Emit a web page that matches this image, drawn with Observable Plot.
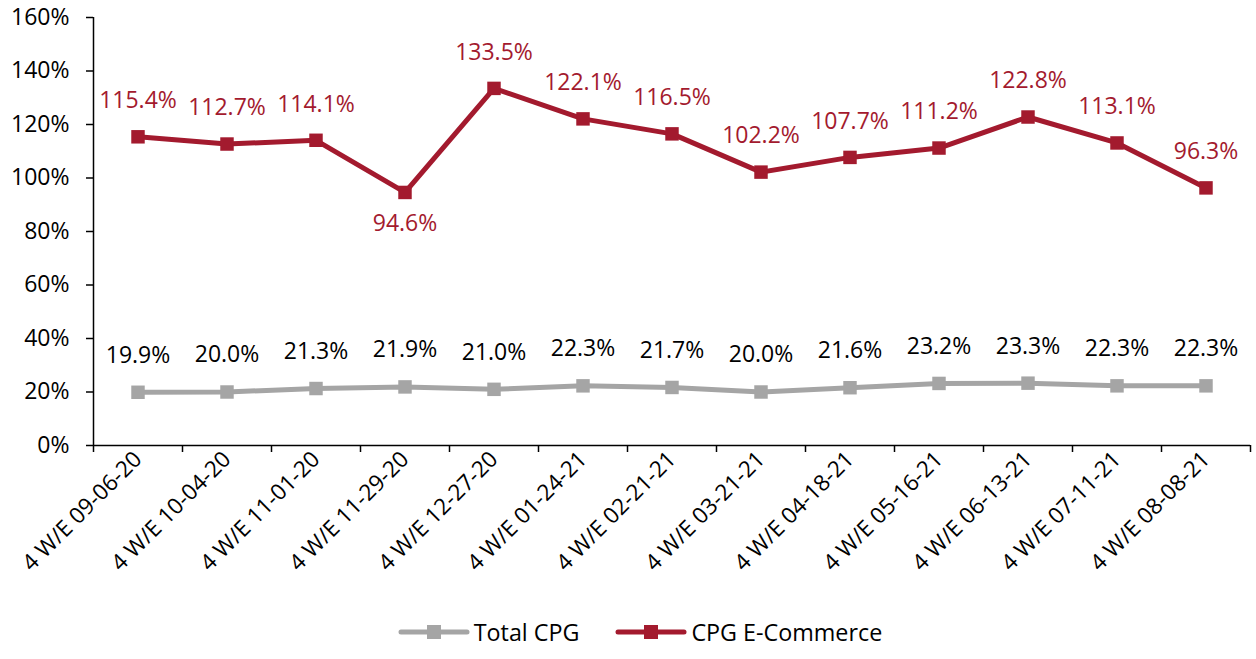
<!DOCTYPE html>
<html>
<head>
<meta charset="utf-8">
<script src="https://cdn.jsdelivr.net/npm/d3@7"></script>
<script src="https://cdn.jsdelivr.net/npm/@observablehq/plot@0.6"></script>
<style>
  html, body { margin: 0; padding: 0; background: #fff; }
  body { width: 1256px; height: 659px; overflow: hidden; font-family: "Open Sans", sans-serif; }
  #legend { position: absolute; left: 12px; top: 612px; width: 1256px; height: 40px; display: flex; justify-content: center; align-items: center; gap: 36px; font-size: 23.3px; color: #000; }
  .item { display: flex; align-items: center; gap: 4px; }
</style>
</head>
<body>
<div id="chart"></div>
<div id="legend"></div>
<script>
const periods = ["4 W/E 09-06-20","4 W/E 10-04-20","4 W/E 11-01-20","4 W/E 11-29-20","4 W/E 12-27-20","4 W/E 01-24-21","4 W/E 02-21-21","4 W/E 03-21-21","4 W/E 04-18-21","4 W/E 05-16-21","4 W/E 06-13-21","4 W/E 07-11-21","4 W/E 08-08-21"];
const totalCPG = [19.9, 20.0, 21.3, 21.9, 21.0, 22.3, 21.7, 20.0, 21.6, 23.2, 23.3, 22.3, 22.3];
const ecommerce = [115.4, 112.7, 114.1, 94.6, 133.5, 122.1, 116.5, 102.2, 107.7, 111.2, 122.8, 113.1, 96.3];
const yTicks = [0, 20, 40, 60, 80, 100, 120, 140, 160];
const seriesNames = ["Total CPG", "CPG E-Commerce"];
const labelsBelow = ["4 W/E 11-29-20"];

const RED = "#A31A2E", GRAY = "#A5A5A5";
const colors = [GRAY, RED];

const rows = [];
periods.forEach((p, i) => {
  rows.push({i, period: p, series: seriesNames[0], value: totalCPG[i]});
  rows.push({i, period: p, series: seriesNames[1], value: ecommerce[i]});
});
const tot = rows.filter(d => d.series === seriesNames[0]);
const eco = rows.filter(d => d.series === seriesNames[1]);
const ecoAbove = eco.filter(d => !labelsBelow.includes(d.period));
const ecoBelow = eco.filter(d => labelsBelow.includes(d.period));
const idx = periods.map((_, i) => i);
const bounds = d3.range(-0.5, periods.length, 1);

const fmt = v => v.toFixed(1) + "%";
const font = "Open Sans, sans-serif";

const chart = Plot.plot({
  width: 1256,
  height: 600,
  marginLeft: 93,
  marginRight: 6,
  marginTop: 17,
  marginBottom: 155,
  style: {fontFamily: font, fontSize: "23px", color: "#000", background: "#fff"},
  x: {type: "linear", domain: [-0.5, periods.length - 0.5]},
  y: {domain: [0, 160]},
  marks: [
    Plot.axisY({ticks: yTicks, tickFormat: d => d + "%", tickSize: 7, tickPadding: 17, fontSize: 23, label: null, strokeWidth: 1.5}),
    Plot.axisX({ticks: bounds, tickFormat: () => "", tickSize: 7, label: null, strokeWidth: 1.5}),
    Plot.axisX({ticks: idx, tickFormat: i => periods[i], tickSize: 0, tickPadding: 10, tickRotate: -45, fontSize: 22.5, label: null}),
    Plot.ruleY([0], {stroke: "#000", strokeWidth: 1.5}),
    Plot.ruleX([-0.5], {y1: 0, y2: 160, stroke: "#000", strokeWidth: 1.5}),
    Plot.line(tot, {x: "i", y: "value", stroke: GRAY, strokeWidth: 5}),
    Plot.dot(tot, {x: "i", y: "value", symbol: "square", r: 7.6, fill: GRAY, stroke: null}),
    Plot.line(eco, {x: "i", y: "value", stroke: RED, strokeWidth: 5}),
    Plot.dot(eco, {x: "i", y: "value", symbol: "square", r: 7.6, fill: RED, stroke: null}),
    Plot.text(tot, {x: "i", y: "value", text: d => fmt(d.value), dy: -37, fill: "#000", fontSize: 23}),
    Plot.text(ecoAbove, {x: "i", y: "value", text: d => fmt(d.value), dy: -36, fill: RED, fontSize: 23}),
    Plot.text(ecoBelow, {x: "i", y: "value", text: d => fmt(d.value), dy: 31, fill: RED, fontSize: 23})
  ]
});
document.getElementById("chart").appendChild(chart);

const legend = document.getElementById("legend");
seriesNames.forEach((name, k) => {
  const item = document.createElement("div");
  item.className = "item";
  item.innerHTML = `<svg width="72" height="16"><line x1="3" y1="8" x2="69" y2="8" stroke="${colors[k]}" stroke-width="5" stroke-linecap="round"/><rect x="29" y="1" width="14" height="14" fill="${colors[k]}"/></svg><span>${name}</span>`;
  legend.appendChild(item);
});
</script>
</body>
</html>
